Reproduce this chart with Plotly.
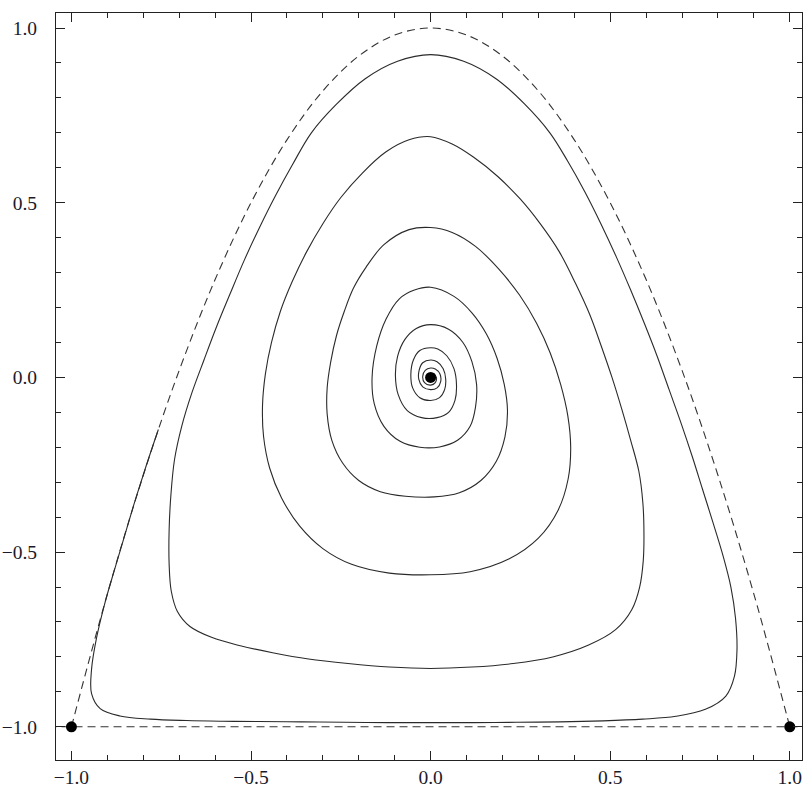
import plotly.graph_objects as go

# Dashed separatrix arc
sep_x = [-1.0, -0.9, -0.8, -0.7, -0.6, -0.5, -0.4, -0.3, -0.2, -0.1, 0.0,
         0.1, 0.2, 0.3, 0.4, 0.5, 0.6, 0.7, 0.8, 0.9, 1.0]
sep_y = [-1.0, -0.62, -0.28, 0.02, 0.28, 0.5, 0.68, 0.82, 0.92, 0.98, 1.0,
         0.98, 0.92, 0.82, 0.68, 0.5, 0.28, 0.02, -0.28, -0.62, -1.0]

# Horizontal dashed line y = -1
base_x = [-1.1, 1.1]
base_y = [-1.0, -1.0]

# Equilibrium points
eq_x = [-1.0, 1.0, 0.0]
eq_y = [-1.0, -1.0, 0.0]

# Spiral trajectory (counter-clockwise, winding inward)
spiral_pts = [
    # start on the separatrix, down the left edge
    (-0.758, -0.149), (-0.791, -0.250), (-0.822, -0.350), (-0.851, -0.450),
    (-0.880, -0.550), (-0.908, -0.650), (-0.930, -0.745), (-0.944, -0.835),
    (-0.944, -0.905), (-0.920, -0.948), (-0.865, -0.969), (-0.780, -0.978),
    # bottom edge
    (-0.680, -0.982), (-0.580, -0.984), (-0.480, -0.985), (-0.360, -0.986),
    (-0.240, -0.987), (-0.120, -0.988), (0.000, -0.988), (0.120, -0.988),
    (0.240, -0.987), (0.360, -0.986), (0.480, -0.983), (0.590, -0.978),
    (0.683, -0.970), (0.765, -0.950), (0.822, -0.912), (0.846, -0.855),
    # first right side
    (0.853, -0.780), (0.849, -0.690), (0.836, -0.600), (0.814, -0.510),
    (0.786, -0.415), (0.757, -0.320), (0.728, -0.225), (0.697, -0.130),
    (0.664, -0.035), (0.631, 0.060), (0.595, 0.155), (0.557, 0.250),
    (0.517, 0.345), (0.474, 0.440), (0.430, 0.530), (0.381, 0.620),
    (0.332, 0.700), (0.262, 0.782), (0.182, 0.855), (0.092, 0.905),
    (0.000, 0.924),
    # first left side
    (-0.092, 0.905), (-0.182, 0.855), (-0.262, 0.782), (-0.332, 0.700),
    (-0.384, 0.610), (-0.432, 0.520), (-0.476, 0.430), (-0.519, 0.335),
    (-0.558, 0.240), (-0.596, 0.145), (-0.631, 0.050), (-0.665, -0.045),
    (-0.693, -0.140), (-0.713, -0.235), (-0.723, -0.335), (-0.728, -0.435),
    (-0.728, -0.535), (-0.722, -0.612), (-0.705, -0.670), (-0.670, -0.713),
    (-0.610, -0.744), (-0.530, -0.768), (-0.440, -0.788), (-0.340, -0.806),
    (-0.230, -0.819), (-0.115, -0.829), (0.000, -0.833), (0.115, -0.829),
    (0.230, -0.819), (0.340, -0.800), (0.440, -0.766), (0.515, -0.722),
    (0.560, -0.665), (0.582, -0.600), (0.592, -0.525), (0.594, -0.450),
    # second right side
    (0.591, -0.360), (0.580, -0.270), (0.557, -0.180), (0.532, -0.090),
    (0.505, 0.000), (0.475, 0.090), (0.443, 0.180), (0.403, 0.270),
    (0.358, 0.360), (0.305, 0.440), (0.250, 0.510), (0.187, 0.575),
    (0.120, 0.630), (0.060, 0.668), (0.000, 0.689),
    # second left side
    (-0.060, 0.680), (-0.125, 0.645), (-0.190, 0.585), (-0.250, 0.515),
    (-0.300, 0.440), (-0.345, 0.360), (-0.385, 0.275), (-0.418, 0.190),
    (-0.443, 0.100), (-0.460, 0.010), (-0.468, -0.080), (-0.465, -0.170),
    (-0.448, -0.260), (-0.415, -0.345), (-0.365, -0.425), (-0.300, -0.490),
    (-0.220, -0.535), (-0.115, -0.560), (0.000, -0.565), (0.110, -0.556),
    (0.219, -0.519), (0.300, -0.460), (0.355, -0.380), (0.383, -0.290),
    (0.390, -0.200), (0.382, -0.110), (0.362, -0.020), (0.333, 0.070),
    (0.295, 0.155), (0.248, 0.235), (0.190, 0.310), (0.125, 0.375),
    (0.060, 0.415), (0.000, 0.429),
    # third turn
    (-0.060, 0.423), (-0.130, 0.380), (-0.180, 0.315), (-0.215, 0.255),
    (-0.240, 0.190), (-0.262, 0.120), (-0.278, 0.045), (-0.288, -0.030),
    (-0.288, -0.105), (-0.275, -0.180), (-0.245, -0.245), (-0.200, -0.295),
    (-0.140, -0.327), (-0.070, -0.340), (0.010, -0.342), (0.080, -0.330),
    (0.140, -0.295), (0.183, -0.240), (0.207, -0.170), (0.214, -0.095),
    (0.205, -0.020), (0.185, 0.055), (0.155, 0.125), (0.115, 0.185),
    (0.065, 0.232), (0.000, 0.258),
    # fourth turn
    (-0.045, 0.250), (-0.087, 0.225), (-0.124, 0.167), (-0.150, 0.090),
    (-0.163, 0.000), (-0.157, -0.075), (-0.130, -0.140), (-0.085, -0.183),
    (-0.030, -0.200), (0.025, -0.199), (0.075, -0.180), (0.110, -0.140),
    (0.125, -0.085), (0.128, -0.020), (0.115, 0.045), (0.090, 0.100),
    (0.050, 0.138), (0.000, 0.151),
    # fifth turn
    (-0.040, 0.140), (-0.072, 0.108), (-0.092, 0.060), (-0.098, 0.005),
    (-0.090, -0.050), (-0.065, -0.095), (-0.025, -0.115), (0.018, -0.115),
    (0.050, -0.100), (0.068, -0.065), (0.072, -0.020), (0.065, 0.025),
    (0.045, 0.062), (0.020, 0.081), (0.000, 0.085),
    # sixth turn
    (-0.030, 0.077), (-0.048, 0.050), (-0.055, 0.010), (-0.050, -0.030),
    (-0.030, -0.058), (0.000, -0.066), (0.025, -0.058), (0.039, -0.035),
    (0.042, -0.005), (0.035, 0.025), (0.018, 0.045), (0.000, 0.050),
    # seventh turn and innermost
    (-0.022, 0.042), (-0.032, 0.020), (-0.033, -0.005), (-0.022, -0.027),
    (0.000, -0.035), (0.018, -0.030), (0.028, -0.012), (0.026, 0.010),
    (0.013, 0.024), (0.000, 0.027), (-0.015, 0.020), (-0.022, 0.003),
    (-0.017, -0.015), (0.000, -0.022), (0.013, -0.015), (0.016, 0.000),
    (0.008, 0.012),
]
spiral_x = [p[0] for p in spiral_pts]
spiral_y = [p[1] for p in spiral_pts]

tick_vals = [-1.0, -0.5, 0.0, 0.5, 1.0]
tick_text = ["\u22121.0", "\u22120.5", "0.0", "0.5", "1.0"]

fig = go.Figure()
fig.add_trace(go.Scatter(x=base_x, y=base_y, mode="lines",
                         line=dict(color="#333333", width=1.1, dash="8px,5px"),
                         hoverinfo="skip"))
fig.add_trace(go.Scatter(x=sep_x, y=sep_y, mode="lines",
                         line=dict(color="#333333", width=1.1, dash="8px,5px", shape="spline"),
                         hoverinfo="skip"))
fig.add_trace(go.Scatter(x=spiral_x, y=spiral_y, mode="lines",
                         line=dict(color="#2a2a2a", width=1.1, shape="spline", smoothing=1.0),
                         hoverinfo="skip"))
fig.add_trace(go.Scatter(x=eq_x, y=eq_y, mode="markers", cliponaxis=False,
                         marker=dict(color="black", size=11),
                         hoverinfo="skip"))

axis_common = dict(
    showgrid=False, zeroline=False,
    showline=True, linecolor="#222222", linewidth=1, mirror="allticks",
    ticks="inside", ticklen=9, tickwidth=1, tickcolor="#222222",
    tickvals=tick_vals, ticktext=tick_text,
    tickfont=dict(family="Liberation Serif, Times New Roman, serif", size=19.5, color="#1a1a2a"),
    minor=dict(dtick=0.1, tick0=0, ticks="inside", ticklen=5, tickwidth=1, tickcolor="#222222"),
)

fig.update_layout(
    width=804, height=789,
    margin=dict(l=56, r=1, t=13, b=27),
    paper_bgcolor="white", plot_bgcolor="white",
    showlegend=False,
    xaxis=dict(range=[-1.043, 1.034], **axis_common),
    yaxis=dict(range=[-1.095, 1.043], ticklabelstandoff=14, **axis_common),
)

fig.write_html("out.html", config={"displayModeBar": False},
               post_script="document.body.style.margin='0px';")
